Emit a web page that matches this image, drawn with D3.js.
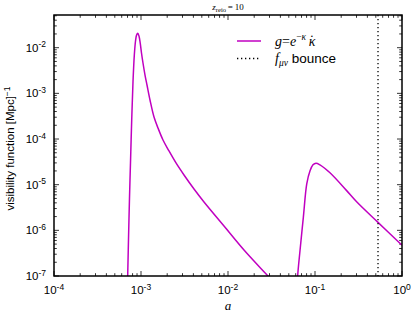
<!DOCTYPE html>
<html><head><meta charset="utf-8">
<script src="https://cdn.jsdelivr.net/npm/d3@7"></script>
<style>body{margin:0;background:#fff}svg{display:block}</style>
</head><body>
<svg id="c" width="415" height="317"></svg>
<script>
// ---- data ----
const recA = [6.94e-4,7.03e-4,7.18e-4,7.38e-4,7.57e-4,7.82e-4,8.09e-4,8.38e-4,8.65e-4,8.90e-4,9.17e-4,9.48e-4,9.79e-4,1.013e-3,1.054e-3,1.112e-3,1.172e-3,1.269e-3,1.411e-3,1.568e-3,1.790e-3,2.098e-3,2.525e-3,3.121e-3,4.067e-3,5.298e-3,8.995e-3,1.527e-2,2.808e-2,3.960e-2];
const recG = [4.93e-8,1.0e-7,6.14e-7,5.37e-6,2.99e-5,2.61e-4,1.774e-3,6.92e-3,1.403e-2,1.897e-2,2.065e-2,1.803e-2,1.268e-2,7.66e-3,4.62e-3,2.52e-3,1.524e-3,7.16e-4,3.03e-4,1.742e-4,9.53e-5,5.47e-5,2.99e-5,1.629e-5,8.04e-6,4.18e-6,1.245e-6,3.71e-7,1.052e-7,5.19e-8];
const reiA = [6.24e-2,6.32e-2,6.73e-2,7.35e-2,8.04e-2,8.77e-2,9.48e-2,0.1026,0.114,0.1486,0.231,0.301,0.526,1.0];
const reiG = [5.0e-8,1.0e-7,3.67e-7,1.95e-6,1.04e-5,2.01e-5,2.72e-5,2.96e-5,2.72e-5,1.82e-5,7.41e-6,4.21e-6,1.51e-6,4.72e-7];
const bounceA = 0.53;
const xTicks = [1e-4,1e-3,1e-2,1e-1,1];
const xTickExp = ["-4","-3","-2","-1","0"];
const yTicks = [1e-7,1e-6,1e-5,1e-4,1e-3,1e-2];
const yTickExp = ["-7","-6","-5","-4","-3","-2"];
const xDomain = [1e-4,1];
const yDomain = [1e-7,0.052];

// ---- layout ----
const W=415,H=317, m={l:54,r:13,t:15,b:41};
const svg=d3.select("#c");
const x=d3.scaleLog().domain(xDomain).range([m.l,W-m.r]);
const y=d3.scaleLog().domain(yDomain).range([H-m.b,m.t]);
const col="#c000c0";

svg.append("clipPath").attr("id","clip").append("rect")
  .attr("x",m.l).attr("y",m.t).attr("width",W-m.l-m.r).attr("height",H-m.t-m.b);

function minors(dom){
  const out=[];
  for(let e=Math.floor(Math.log10(dom[0]));e<=Math.ceil(Math.log10(dom[1]));e++){
    for(let k=2;k<=9;k++){const v=k*Math.pow(10,e); if(v>dom[0]&&v<dom[1]) out.push(v);}
  }
  return out;
}
const xMin=minors(xDomain), yMin=minors(yDomain);
const g=svg.append("g").attr("stroke","#000").attr("stroke-width",0.8);
const majL=5, minL=2.8;
xTicks.forEach(v=>{const px=x(v);
  g.append("line").attr("x1",px).attr("x2",px).attr("y1",H-m.b).attr("y2",H-m.b-majL);
  g.append("line").attr("x1",px).attr("x2",px).attr("y1",m.t).attr("y2",m.t+majL);});
xMin.forEach(v=>{const px=x(v);
  g.append("line").attr("x1",px).attr("x2",px).attr("y1",H-m.b).attr("y2",H-m.b-minL);
  g.append("line").attr("x1",px).attr("x2",px).attr("y1",m.t).attr("y2",m.t+minL);});
yTicks.forEach(v=>{const py=y(v);
  g.append("line").attr("y1",py).attr("y2",py).attr("x1",m.l).attr("x2",m.l+majL);
  g.append("line").attr("y1",py).attr("y2",py).attr("x1",W-m.r).attr("x2",W-m.r-majL);});
yMin.forEach(v=>{const py=y(v);
  g.append("line").attr("y1",py).attr("y2",py).attr("x1",m.l).attr("x2",m.l+minL);
  g.append("line").attr("y1",py).attr("y2",py).attr("x1",W-m.r).attr("x2",W-m.r-minL);});

// curves
const line=d3.line().x(d=>x(d[0])).y(d=>y(d[1])).curve(d3.curveCatmullRom.alpha(0.5));
const plot=svg.append("g").attr("clip-path","url(#clip)");
plot.append("path").datum(recA.map((a,i)=>[a,recG[i]])).attr("d",line)
  .attr("fill","none").attr("stroke",col).attr("stroke-width",1.5);
plot.append("path").datum(reiA.map((a,i)=>[a,reiG[i]])).attr("d",line)
  .attr("fill","none").attr("stroke",col).attr("stroke-width",1.5);
plot.append("line").attr("x1",x(bounceA)).attr("x2",x(bounceA)).attr("y1",m.t).attr("y2",H-m.b)
  .attr("stroke","#000").attr("stroke-width",1.3).attr("stroke-dasharray","1.3,2.7");

// frame
svg.append("rect").attr("x",m.l).attr("y",m.t).attr("width",W-m.l-m.r).attr("height",H-m.t-m.b)
  .attr("fill","none").attr("stroke","#000").attr("stroke-width",1.5);

// tick labels
const sans="Liberation Sans, Arial, sans-serif";
xTicks.forEach((v,i)=>{
  const t=svg.append("text").attr("x",x(v)).attr("y",294).attr("text-anchor","middle")
    .attr("font-family",sans).attr("font-size",11.5);
  t.append("tspan").text("10");
  t.append("tspan").attr("dy",-4.5).attr("font-size",8.5).text(xTickExp[i]);
});
yTicks.forEach((v,i)=>{
  const t=svg.append("text").attr("x",46).attr("y",y(v)+4).attr("text-anchor","end")
    .attr("font-family",sans).attr("font-size",11.5);
  t.append("tspan").text("10");
  t.append("tspan").attr("dy",-4.5).attr("font-size",8.5).text(yTickExp[i]);
});

// axis titles
const serifF="Liberation Serif, serif";
svg.append("text").attr("x",228).attr("y",310).attr("text-anchor","middle")
  .attr("font-family",serifF).attr("font-style","italic").attr("font-size",13).text("a");
const yt=svg.append("text").attr("transform","translate(13.5,148.5) rotate(-90)").attr("text-anchor","middle")
  .attr("font-family",sans).attr("font-size",11.5);
yt.append("tspan").text("visibility function  [Mpc]");
yt.append("tspan").attr("dy",-4).attr("font-size",8.5).text("\u22121");

// title
const tt=svg.append("text").attr("x",228).attr("y",10).attr("text-anchor","middle")
  .attr("font-family",serifF).attr("font-size",9);
tt.append("tspan").attr("font-style","italic").text("z");
tt.append("tspan").attr("dy",2).attr("font-size",6.5).text("reio");
tt.append("tspan").attr("dy",-2).text("\u2009=\u200910");

// legend
svg.append("line").attr("x1",237).attr("x2",261).attr("y1",41).attr("y2",41)
  .attr("stroke",col).attr("stroke-width",1.5);
svg.append("line").attr("x1",237).attr("x2",261).attr("y1",58.5).attr("y2",58.5)
  .attr("stroke","#000").attr("stroke-width",1.3).attr("stroke-dasharray","1.3,2.7");
const l1=svg.append("text").attr("x",275).attr("y",46).attr("font-family",serifF).attr("font-size",14);
l1.append("tspan").attr("font-style","italic").text("g");
l1.append("tspan").text("=");
l1.append("tspan").attr("font-style","italic").text("e");
l1.append("tspan").attr("dy",-6).attr("font-size",9.5).text("\u2212");
l1.append("tspan").attr("font-size",9.5).attr("font-style","italic").text("\u03ba");
l1.append("tspan").attr("dy",6).text("\u2009");
l1.append("tspan").attr("font-style","italic").text("\u03ba");
l1.append("tspan").attr("dx",-6).attr("dy",-1).text("\u02D9");
const l2=svg.append("text").attr("x",275).attr("y",63).attr("font-size",14);
l2.append("tspan").attr("font-family",serifF).attr("font-style","italic").text("f");
l2.append("tspan").attr("font-family",serifF).attr("font-style","italic").attr("font-size",9.5).attr("dy",3).text("\u03bc\u03bd");
l2.append("tspan").attr("font-family",sans).attr("font-size",13.5).attr("dy",-3).text(" bounce");
</script>
</body></html>
